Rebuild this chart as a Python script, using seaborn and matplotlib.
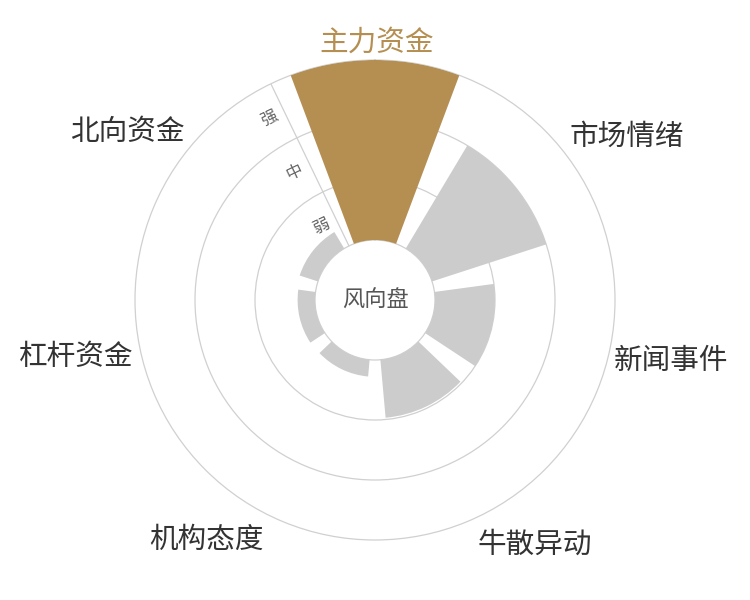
import numpy as np
import matplotlib
matplotlib.use('Agg')
import matplotlib.pyplot as plt
import matplotlib.transforms as mtransforms
import seaborn as sns

# ---- data ----
categories = ['主力资金', '市场情绪', '新闻事件', '牛散异动', '机构态度', '杠杆资金', '北向资金']
values = [3.0, 2.0, 1.0, 0.97, 0.28, 0.29, 0.32]
highlight = '主力资金'
levels = ['弱', '中', '强']
center_title = '风向盘'

# ---- style ----
sns.set_theme(style='white')
plt.rcParams['font.family'] = ['Noto Sans CJK SC', 'DejaVu Sans']
gold = '#b58f52'
gray = '#cccccc'
line_c = '#d0d0d0'

fig = plt.figure(figsize=(7.5, 6), dpi=100)
ax = fig.add_axes([135 / 750, 60 / 600, 480 / 750, 480 / 600], projection='polar')
ax.set_theta_zero_location('N')
ax.set_theta_direction(-1)

n = len(categories)
step = 2 * np.pi / n
theta = np.arange(n) * step
colors = [gold if c == highlight else gray for c in categories]
hole = 1.0
ax.bar(theta, values, width=step * 0.8, bottom=hole, color=colors,
       linewidth=0, zorder=3)
ax.set_ylim(0, hole + len(levels))

# grid rings
ax.set_axisbelow(True)
ax.set_yticks([hole + i for i in range(len(levels))])
ax.set_yticklabels([])
ax.set_xticks([])
ax.yaxis.grid(True, color=line_c, linewidth=0.9)
ax.xaxis.grid(False)
ax.spines['polar'].set_color(line_c)
ax.spines['polar'].set_linewidth(0.9)

# radial axis line
ax.plot([-step / 2, -step / 2], [hole, hole + len(levels)], color=line_c,
        linewidth=0.9, zorder=1)

# radial labels
trans = mtransforms.offset_copy(ax.transData, fig=fig, x=-15, y=-7.5, units='dots')
for i, lv in enumerate(levels):
    ax.text(-step / 2, hole + 0.5 + i, lv, transform=trans,
            rotation=np.degrees(step / 2), ha='center', va='center',
            fontsize=12, color='#666666', zorder=4)

# center title
ax.text(0, 0, center_title, ha='center', va='center', fontsize=16,
        color='#555555', zorder=5)

# category labels (pixel nudges are layout only)
nudges = [(2, -5), (1, -6), (-3, -6), (-5, -6), (-4, -2), (0, -2), (3, -2)]
for th, c, (dx, dy) in zip(theta, categories, nudges):
    s, co = np.sin(th), np.cos(th)
    ha = 'left' if s > 0.1 else ('right' if s < -0.1 else 'center')
    va = 'bottom' if co > 0.3 else ('top' if co < -0.3 else 'center')
    t = mtransforms.offset_copy(ax.transData, fig=fig, x=dx, y=dy, units='dots')
    ax.text(th, hole + len(levels) + 0.13, c, ha=ha, va=va, fontsize=20.6,
            transform=t, color=gold if c == highlight else '#333333',
            clip_on=False)

fig.savefig('out.png', dpi=100, facecolor='white')
